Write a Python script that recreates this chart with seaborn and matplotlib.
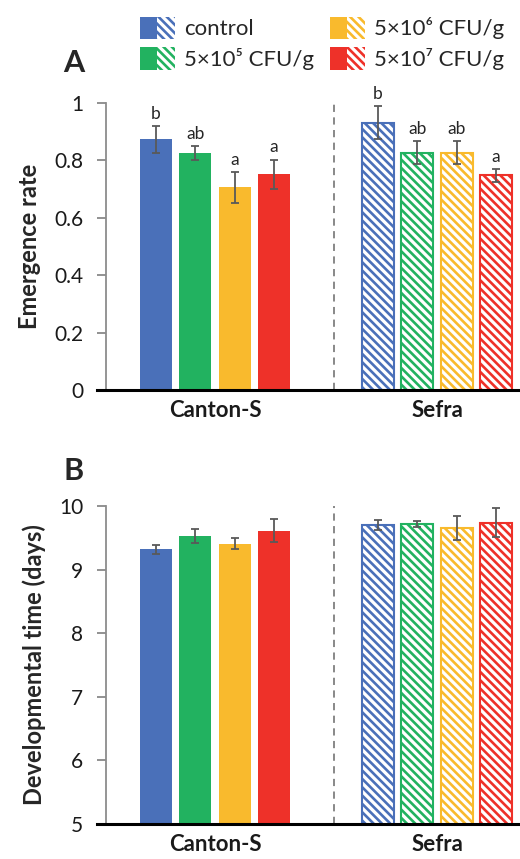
import matplotlib
matplotlib.use('Agg')
import matplotlib.pyplot as plt
import pandas as pd
import seaborn as sns
from matplotlib.patches import Patch
from matplotlib.legend_handler import HandlerTuple

# Data
strains = ['Canton-S', 'Sefra']
treatments = ['control', '5×10⁵ CFU/g', '5×10⁶ CFU/g', '5×10⁷ CFU/g']
colors = ['#4A70B9', '#22B260', '#F9BA2D', '#EE3129']

emerg_canton = [0.873, 0.827, 0.706, 0.751]
emerg_canton_err = [0.046, 0.024, 0.053, 0.052]
emerg_sefra = [0.931, 0.826, 0.826, 0.748]
emerg_sefra_err = [0.057, 0.040, 0.040, 0.023]
letters_canton = ['b', 'ab', 'a', 'a']
letters_sefra = ['b', 'ab', 'ab', 'a']

dev_canton = [9.32, 9.53, 9.41, 9.61]
dev_canton_err = [0.07, 0.11, 0.08, 0.18]
dev_sefra = [9.70, 9.72, 9.66, 9.74]
dev_sefra_err = [0.085, 0.05, 0.19, 0.23]

sns.set_style('white')
plt.rcParams['font.family'] = ['Lato', 'DejaVu Sans']
plt.rcParams['hatch.linewidth'] = 1.9
HATCH = '\\\\\\\\'


def make_df(canton, sefra):
  return pd.DataFrame({
    'strain': [strains[0]] * 4 + [strains[1]] * 4,
    'treatment': treatments + treatments,
    'value': canton + sefra})


def draw_panel(ax, df, errs, ylim, yticks, ylabels, ylabel, letters=None):
  sns.barplot(data=df, x='strain', y='value', hue='treatment', order=strains,
              hue_order=treatments, palette=colors, width=0.71, gap=0.19,
              errorbar=None, legend=False, ax=ax, saturation=1)
  bar_conts = list(ax.containers)
  for h, cont in enumerate(bar_conts):
    for s, bar in enumerate(cont):
      if s == 1:
        bar.set_facecolor('white')
        bar.set_edgecolor(colors[h])
        bar.set_hatch(HATCH)
        bar.set_linewidth(1.5)
      else:
        bar.set_edgecolor('none')
      x = bar.get_x() + bar.get_width() / 2
      y = bar.get_height()
      e = errs[s][h]
      ax.errorbar(x, y, yerr=e, color='#595959', capsize=3, capthick=1.3,
                  elinewidth=1.3, zorder=5)
      if letters is not None:
        ax.annotate(letters[s][h], (x, y + e), xytext=(0, 3),
                    textcoords='offset points', ha='center', va='bottom',
                    fontsize=12.5, color='#262626')
  ax.set_xlim(-0.532, 1.374)
  ax.set_ylim(*ylim)
  ax.axvline(0.536, color='#7f7f7f', linestyle='--', linewidth=1.3,
             dashes=(4, 3))
  sns.despine(ax=ax)
  ax.spines['left'].set_position(('axes', 0.0213))
  ax.spines['left'].set_color('#8c8c8c')
  ax.spines['left'].set_linewidth(1.3)
  ax.spines['bottom'].set_color('black')
  ax.spines['bottom'].set_linewidth(2.2)
  ax.set_yticks(yticks)
  ax.set_yticklabels(ylabels)
  ax.tick_params(axis='y', direction='out', length=6.5, width=1.2,
                 color='#7f7f7f', left=True, pad=10, labelsize=15,
                 labelcolor='#1a1a1a')
  ax.tick_params(axis='x', length=0, pad=7, labelsize=16,
                 labelcolor='#1a1a1a')
  for lab in ax.get_xticklabels():
    lab.set_fontweight('bold')
  ax.set_xlabel('')
  ax.set_ylabel(ylabel, fontsize=17, fontweight='bold', labelpad=9)


fig = plt.figure(figsize=(5.2, 8.59), dpi=100)
ax1 = fig.add_axes([97 / 520, 1 - 390 / 859, 423 / 520, 287 / 859])
ax2 = fig.add_axes([97 / 520, 1 - 824 / 859, 423 / 520, 318 / 859])

draw_panel(ax1, make_df(emerg_canton, emerg_sefra),
           [emerg_canton_err, emerg_sefra_err], (0, 1),
           [0, 0.2, 0.4, 0.6, 0.8, 1], ['0', '0.2', '0.4', '0.6', '0.8', '1'],
           'Emergence rate', [letters_canton, letters_sefra])
draw_panel(ax2, make_df(dev_canton, dev_sefra),
           [dev_canton_err, dev_sefra_err], (5, 10),
           [5, 6, 7, 8, 9, 10], ['5', '6', '7', '8', '9', '10'],
           'Developmental time (days)')

fig.text(63 / 520, 1 - 72 / 859, 'A', fontsize=22, fontweight='bold')
fig.text(63 / 520, 1 - 480 / 859, 'B', fontsize=22, fontweight='bold')

# Legend: solid + hatched swatch for each treatment
handles = []
for c in colors:
  solid = Patch(facecolor=c, edgecolor='none')
  hatched = Patch(facecolor='white', edgecolor=c, hatch=HATCH, linewidth=0)
  handles.append((solid, hatched))
fig.legend(handles, treatments, ncol=2, loc='upper left',
           bbox_to_anchor=(124 / 520, 1 - 1 / 859), frameon=False,
           handler_map={tuple: HandlerTuple(ndivide=None, pad=0)},
           fontsize=16, handlelength=1.6, handleheight=1.2,
           columnspacing=0.7, handletextpad=0.4, labelspacing=0.35,
           borderpad=0.2)

fig.savefig('out.png', dpi=100)
